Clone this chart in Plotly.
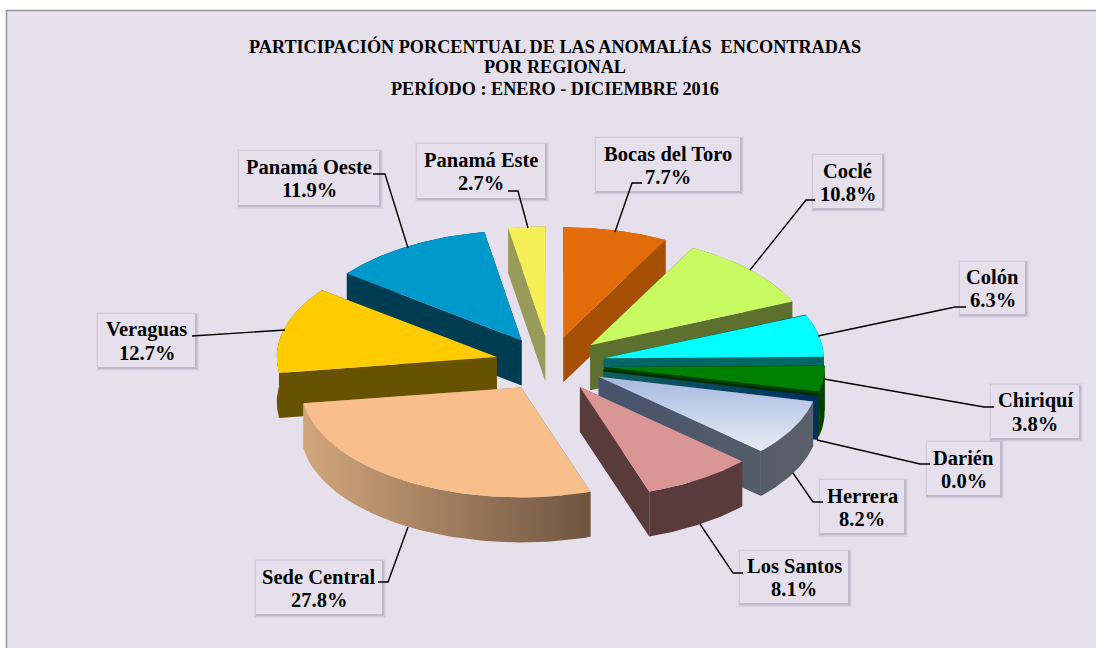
import numpy as np
import plotly.graph_objects as go

# ---- data ----
regions = ["Bocas del Toro", "Coclé", "Colón", "Chiriquí", "Darién", "Herrera",
           "Los Santos", "Sede Central", "Veraguas", "Panamá Oeste", "Panamá Este"]
shares = [7.7, 10.8, 6.3, 3.8, 0.0, 8.2, 8.1, 27.8, 12.7, 11.9, 2.7]
title_lines = ["PARTICIPACIÓN PORCENTUAL DE LAS ANOMALÍAS\u00a0\u00a0ENCONTRADAS",
               "POR REGIONAL", "PERÍODO : ENERO - DICIEMBRE 2016"]

# ---- styles ----
top_colors = ["#E26B0A", "#C8FB62", "#00FFFF", "#008000", "#003000", "#A6B9E0",
              "#D99694", "#F8BE8C", "#FFCC00", "#0099CC", "#F3EF55"]
top_end = {"Herrera": "#E6ECF5"}
wall_colors = ["#A65005", "#5E702D", "#006666", "#004000", "#0F6060", "#46536D",
               "#5A3B3C", "#D2A67C", "#665200", "#003D52", "#9A9A5A"]
wall_end = {"Darién": "#002F63", "Herrera": "#5A6068", "Sede Central": "#6F5540"}

CX, CY, RX, RY, PULL, DEPTH = 550, 364, 220, 110, 0.25, 45
BG = "#E6E0EC"

# label box: left, right, top, bottom ; leader polyline
boxes = {
    "Bocas del Toro": (596, 740, 138, 191), "Coclé": (813, 882, 155, 208),
    "Colón": (960, 1025, 262, 314), "Chiriquí": (991, 1079, 385, 438),
    "Darién": (927, 1000, 442, 495), "Herrera": (820, 904, 480, 533),
    "Los Santos": (740, 848, 551, 603), "Sede Central": (256, 382, 561, 614),
    "Veraguas": (98, 195, 314, 367), "Panamá Oeste": (239, 379, 151, 205),
    "Panamá Este": (417, 545, 144, 198),
}
leaders = {
    "Bocas del Toro": [(642, 183), (632, 183), (615, 232)],
    "Coclé": [(815, 200), (806, 200), (750, 270)],
    "Colón": [(966, 307), (955, 307), (818, 336)],
    "Chiriquí": [(994, 407), (984, 407), (824, 379)],
    "Darién": [(930, 464), (920, 464), (817, 440)],
    "Herrera": [(823, 502), (813, 502), (793, 473)],
    "Los Santos": [(743, 573), (733, 573), (700, 524)],
    "Sede Central": [(378, 582), (388, 582), (408, 527)],
    "Veraguas": [(192, 336), (285, 330)],
    "Panamá Oeste": [(373, 174), (385, 174), (408, 248)],
    "Panamá Este": [(508, 191), (518, 191), (528, 228)],
}

total = sum(shares)
cum = np.cumsum([0] + shares) / total * 2 * np.pi


def px(a, r=1.0):
    return RX * r * np.sin(a), RY * r * -np.cos(a)


fig = go.Figure()
slices = []
for i, name in enumerate(regions):
    a0, a1 = cum[i], cum[i + 1]
    mid = (a0 + a1) / 2
    ox, oy = px(mid, PULL)
    tx, ty = CX + ox, CY + oy
    t = np.linspace(a0, a1, 70)
    ax, ay = px(t)
    ax, ay = tx + ax, ty + ay
    slices.append((oy + RY * 0.25 * -np.cos(mid), i, tx, ty, ax, ay))

for _, i, tx, ty, ax, ay in sorted(slices, key=lambda s: s[0]):
    name = regions[i]
    # walls: two radial faces and the curved outer face, each its own polygon
    polys = []
    for k in (0, -1):
        polys.append(([tx, ax[k], ax[k], tx, tx], [ty, ay[k], ay[k] + DEPTH, ty + DEPTH, ty]))
    polys.append((list(ax) + list(ax[::-1]) + [ax[0]], list(ay) + list(ay[::-1] + DEPTH) + [ay[0]]))
    xmin = min(min(p[0]) for p in polys)
    xmax = max(max(p[0]) for p in polys)
    for wx, wy in polys:
        wall = dict(x=wx, y=wy, mode="lines", fill="toself", line=dict(width=0),
                    hoverinfo="skip", showlegend=False)
        if name in wall_end:
            wall["fillgradient"] = dict(type="horizontal", start=xmin, stop=xmax,
                                        colorscale=[[0, wall_colors[i]], [1, wall_end[name]]])
        else:
            wall["fillcolor"] = wall_colors[i]
        fig.add_trace(go.Scatter(**wall))
    # top face
    fx = [tx] + list(ax) + [tx]
    fy = [ty] + list(ay) + [ty]
    top = dict(x=fx, y=fy, mode="lines", fill="toself", name=name,
               hovertemplate=f"{name}: {shares[i]:.1f}%<extra></extra>", showlegend=False)
    if shares[i] == 0:
        top["line"] = dict(width=2.5, color=top_colors[i])
    else:
        top["line"] = dict(width=0)
    if name in top_end:
        top["fillgradient"] = dict(type="vertical", start=min(fy), stop=max(fy),
                                   colorscale=[[0, top_colors[i]], [1, top_end[name]]])
    else:
        top["fillcolor"] = top_colors[i]
    fig.add_trace(go.Scatter(**top))

# leaders
for name in regions:
    pts = leaders[name]
    fig.add_trace(go.Scatter(x=[p[0] for p in pts], y=[p[1] for p in pts], mode="lines",
                             line=dict(color="#000000", width=1.4), hoverinfo="skip",
                             showlegend=False))

shapes = [dict(type="rect", x0=6.5, x1=1110, y0=10.5, y1=670, fillcolor=BG,
               line=dict(color="#969696", width=1.5), layer="below")]
annotations = []
for k, line in enumerate(title_lines):
    annotations.append(dict(x=555, y=46.5 + 20.8 * k, text=f"<b>{line}</b>", showarrow=False,
                            xref="x", yref="y", xanchor="center", yanchor="middle",
                            font=dict(family="Liberation Serif", size=18.2, color="#000")))
for i, name in enumerate(regions):
    l, r, t, b = boxes[name]
    for g, alpha in ((3, 0.05), (2, 0.08), (1, 0.12)):
        shapes.append(dict(type="rect", x0=l - g + 1, x1=r + g + 1, y0=t - g + 1, y1=b + g + 1,
                           fillcolor=f"rgba(70,60,90,{alpha})", line=dict(width=0), layer="below"))
    shapes.append(dict(type="rect", x0=l, x1=r, y0=t, y1=b, fillcolor=BG, line=dict(width=0),
                       layer="below"))
    yc = (t + b) / 2
    annotations.append(dict(x=(l + r) / 2, y=yc - 11, text=f"<b>{name}</b>", showarrow=False,
                            xanchor="center", yanchor="middle",
                            font=dict(family="Liberation Serif", size=20.5, color="#000")))
    annotations.append(dict(x=(l + r) / 2, y=yc + 12, text=f"<b>{shares[i]:.1f}%</b>", showarrow=False,
                            xanchor="center", yanchor="middle",
                            font=dict(family="Liberation Serif", size=20.5, color="#000")))

fig.update_layout(
    width=1096, height=648, margin=dict(l=0, r=0, t=0, b=0), autosize=False,
    paper_bgcolor="#FFFFFF", plot_bgcolor="rgba(0,0,0,0)", showlegend=False,
    xaxis=dict(range=[0, 1096], visible=False, fixedrange=True),
    yaxis=dict(range=[648, 0], visible=False, fixedrange=True),
    shapes=shapes, annotations=annotations,
)
fig.write_html("out.html", config={"displayModeBar": False},
               post_script="document.body.style.margin='0';document.documentElement.style.overflow='hidden';")
